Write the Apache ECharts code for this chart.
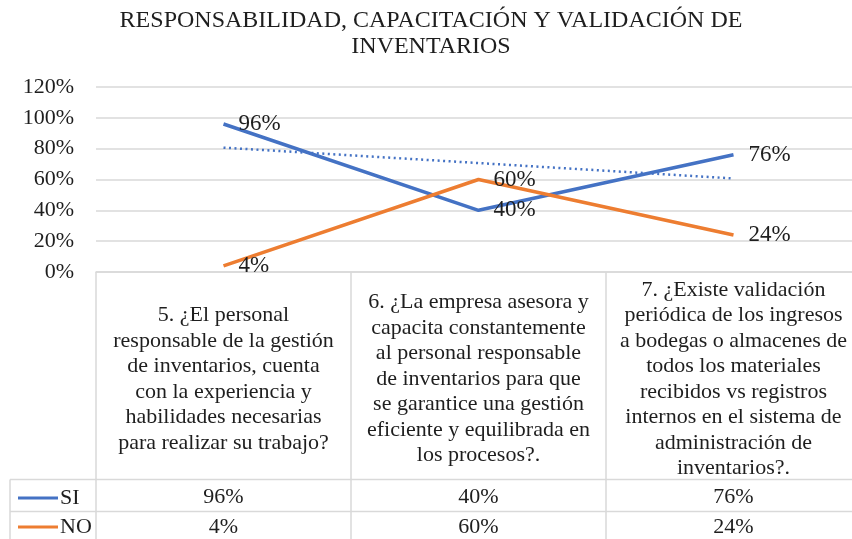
<!DOCTYPE html>
<html>
<head>
<meta charset="utf-8">
<script src="https://cdn.jsdelivr.net/npm/echarts@6/dist/echarts.min.js"></script>
<style>
  html, body { margin: 0; padding: 0; background: #fff; }
  #chart { width: 852px; height: 539px; }
</style>
</head>
<body>
<div id="chart"></div>
<script>
var titleText = 'RESPONSABILIDAD, CAPACITACIÓN Y VALIDACIÓN DE\nINVENTARIOS'
var categories = [
    '5. ¿El personal\nresponsable de la gestión\nde inventarios, cuenta\ncon la experiencia y\nhabilidades necesarias\npara realizar su trabajo?',
    '6. ¿La empresa asesora y\ncapacita constantemente\nal personal responsable\nde inventarios para que\nse garantice una gestión\neficiente y equilibrada en\nlos procesos?.',
    '7. ¿Existe validación\nperiódica de los ingresos\na bodegas o almacenes de\ntodos los materiales\nrecibidos vs registros\ninternos en el sistema de\nadministración de\ninventarios?.'
]
var siValues = [96, 40, 76]
var noValues = [4, 60, 24]
var yTicks = [0, 20, 40, 60, 80, 100, 120]

var FONT = 'Liberation Serif'
var TXT = '#1e1e1e'
var GRID_C = '#d9d9d9'
var BLUE = '#4472C4'
var ORANGE = '#ED7D31'

// linear trendline for SI (least squares on 1..n)
function trend (vals) {
    var n = vals.length
    var mx = (n + 1) / 2
    var my = vals.reduce(function (a, b) { return a + b }, 0) / n
    var num = 0, den = 0
    vals.forEach(function (v, i) {
        num += (i + 1 - mx) * (v - my)
        den += (i + 1 - mx) * (i + 1 - mx)
    })
    var slope = num / den
    return vals.map(function (v, i) { return +(my + slope * (i + 1 - mx)).toFixed(2) })
}

var pct = function (v) { return v + '%' }

var chart = echarts.init(document.getElementById('chart'))
var labelOpt = {
    show: true,
    position: 'right',
    distance: 15,
    formatter: function (p) { return p.value + '%' },
    fontFamily: FONT,
    fontSize: 23,
    color: TXT
}
var option = {
    animation: false,
    title: {
        text: titleText,
        left: 426,
        textAlign: 'center',
        top: 3,
        textStyle: {
            fontFamily: FONT,
            fontSize: 24,
            fontWeight: 'normal',
            lineHeight: 26,
            color: TXT
        }
    },
    legend: {
        data: ['SI', 'NO'],
        orient: 'vertical',
        left: 13,
        top: 482,
        height: 80,
        icon: 'rect',
        itemWidth: 40,
        itemHeight: 3,
        itemGap: 7,
        textStyle: {
            fontFamily: FONT,
            fontSize: 22,
            lineHeight: 22,
            color: TXT,
            padding: [0, 0, 0, -3]
        }
    },
    grid: {
        left: 96,
        top: 87,
        width: 765,
        height: 185,
        outerBoundsMode: 'none',
        containLabel: false
    },
    xAxis: [
        {
            type: 'category',
            data: categories,
            boundaryGap: true,
            axisLine: { show: true, lineStyle: { color: GRID_C, width: 1.5 } },
            axisTick: {
                show: true,
                interval: 0,
                length: 270,
                lineStyle: { color: GRID_C, width: 1.5 }
            },
            axisLabel: {
                interval: 0,
                margin: 107,
                verticalAlign: 'middle',
                align: 'center',
                fontFamily: FONT,
                fontSize: 22,
                lineHeight: 25.5,
                color: TXT
            }
        },
        {
            type: 'category',
            position: 'bottom',
            data: siValues.map(pct),
            axisLine: { show: false },
            axisTick: { show: false },
            axisLabel: {
                interval: 0,
                margin: 225,
                verticalAlign: 'middle',
                fontFamily: FONT,
                fontSize: 22,
                color: TXT
            }
        },
        {
            type: 'category',
            position: 'bottom',
            data: noValues.map(pct),
            axisLine: { show: false },
            axisTick: { show: false },
            axisLabel: {
                interval: 0,
                margin: 255,
                verticalAlign: 'middle',
                fontFamily: FONT,
                fontSize: 22,
                color: TXT
            }
        }
    ],
    yAxis: {
        type: 'value',
        min: yTicks[0],
        max: yTicks[yTicks.length - 1],
        interval: yTicks[1] - yTicks[0],
        axisLine: { show: false },
        axisTick: { show: false },
        splitLine: { show: true, lineStyle: { color: GRID_C, width: 1.5 } },
        axisLabel: {
            margin: 22,
            formatter: '{value}%',
            fontFamily: FONT,
            fontSize: 22,
            color: TXT
        }
    },
    series: [
        {
            name: 'SI',
            type: 'line',
            data: siValues,
            symbol: 'circle',
            symbolSize: 0,
            itemStyle: { color: BLUE },
            lineStyle: { color: BLUE, width: 3.5 },
            label: labelOpt,
            z: 3
        },
        {
            name: 'NO',
            type: 'line',
            data: noValues,
            symbol: 'circle',
            symbolSize: 0,
            itemStyle: { color: ORANGE },
            lineStyle: { color: ORANGE, width: 3.5 },
            label: labelOpt,
            z: 3
        },
        {
            name: 'Lineal (SI)',
            type: 'line',
            data: trend(siValues),
            symbol: 'none',
            silent: true,
            lineStyle: { color: BLUE, width: 2.5, type: [2, 3.5] },
            z: 2
        }
    ],
    graphic: [
        // data table row borders and legend column
        { type: 'line', shape: { x1: 10, y1: 479.5, x2: 852, y2: 479.5 }, style: { stroke: GRID_C, lineWidth: 1.5 } },
        { type: 'line', shape: { x1: 10, y1: 511.5, x2: 852, y2: 511.5 }, style: { stroke: GRID_C, lineWidth: 1.5 } },
        { type: 'line', shape: { x1: 10, y1: 479.5, x2: 10, y2: 539 }, style: { stroke: GRID_C, lineWidth: 1.5 } }
    ]
}
chart.setOption(option)
</script>
</body>
</html>
